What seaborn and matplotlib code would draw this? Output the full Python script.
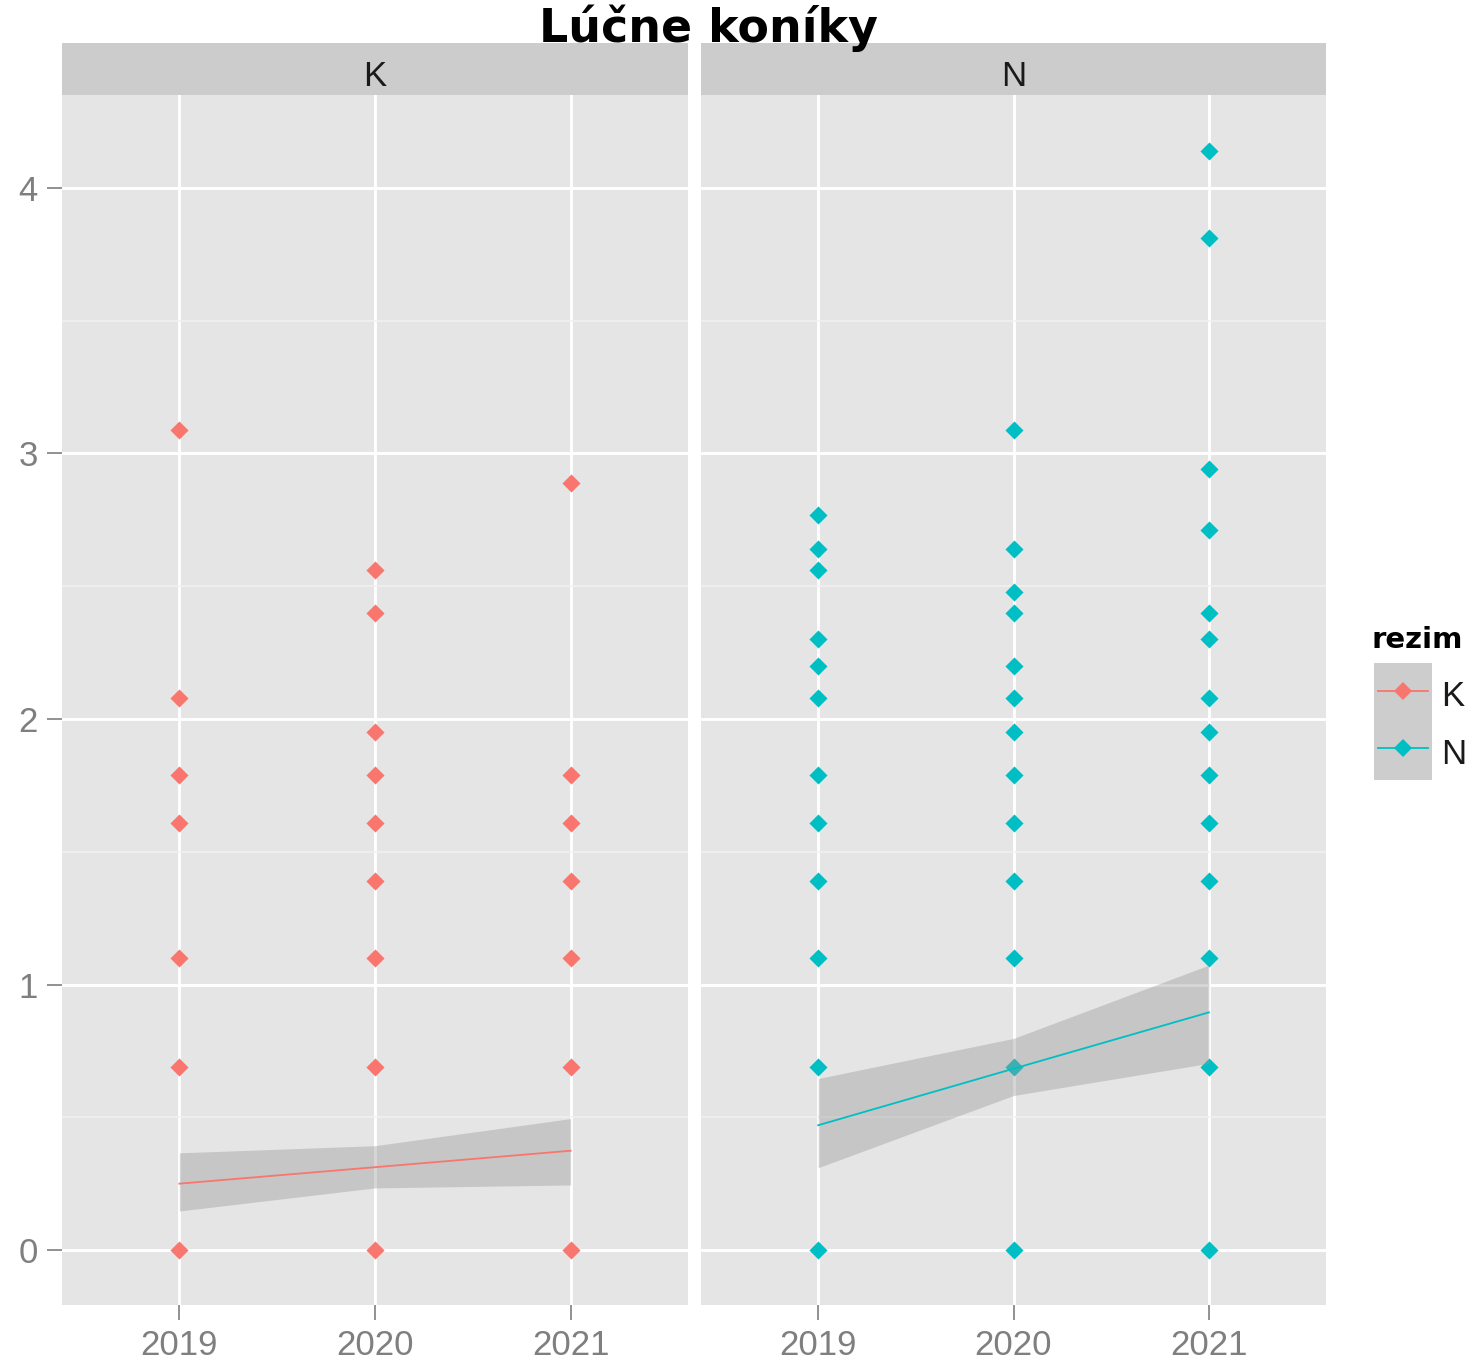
import numpy as np
import pandas as pd
import matplotlib
matplotlib.use("Agg")
import matplotlib.pyplot as plt
import seaborn as sns

# ---- data -------------------------------------------------------------
years = [2019, 2020, 2021]
regimes = ["K", "N"]
palette = {"K": "#F8766D", "N": "#00BFC4"}

# log-transformed abundances per plot, by regime and year
k_2019 = [3.09, 2.08, 1.79, 1.61, 1.10, 0.69, 0.0]
k_2020 = [2.56, 2.40, 1.95, 1.79, 1.61, 1.39, 1.10, 0.69, 0.0]
k_2021 = [2.89, 1.79, 1.61, 1.39, 1.10, 0.69, 0.0]
n_2019 = [2.77, 2.64, 2.56, 2.30, 2.20, 2.08, 1.79, 1.61, 1.39, 1.10, 0.69, 0.0]
n_2020 = [3.09, 2.64, 2.48, 2.40, 2.20, 2.08, 1.95, 1.79, 1.61, 1.39, 1.10, 0.69, 0.0]
n_2021 = [4.14, 3.81, 2.94, 2.71, 2.40, 2.30, 2.08, 1.95, 1.79, 1.61, 1.39, 1.10, 0.69, 0.0]

# fitted trend with its confidence band, at each year
k_fit = [0.25, 0.312, 0.374]
k_lower = [0.147, 0.234, 0.245]
k_upper = [0.366, 0.393, 0.495]
n_fit = [0.47, 0.683, 0.895]
n_lower = [0.31, 0.582, 0.703]
n_upper = [0.646, 0.797, 1.073]

y_ticks = [0, 1, 2, 3, 4]
title = "Lúčne koníky"
legend_title = "rezim"

# ---- tidy tables ------------------------------------------------------
rows = []
for reg, series in (("K", (k_2019, k_2020, k_2021)), ("N", (n_2019, n_2020, n_2021))):
    for yr, vals in zip(years, series):
        for v in vals:
            rows.append({"rok": yr, "hodnota": v, "rezim": reg})
points = pd.DataFrame(rows)

fits = pd.DataFrame({
    "rok": years * 2,
    "rezim": ["K"] * 3 + ["N"] * 3,
    "fit": k_fit + n_fit,
    "lower": k_lower + n_lower,
    "upper": k_upper + n_upper,
})

# ---- figure -----------------------------------------------------------
plt.rcParams["font.family"] = ["Liberation Sans Narrow", "Liberation Sans", "DejaVu Sans"]

W, H = 1470, 1364
fig = plt.figure(figsize=(W / 100, H / 100), dpi=100)


def box(x0, y0, x1, y1):
    return [x0 / W, 1 - y1 / H, (x1 - x0) / W, (y1 - y0) / H]


panel_px = {"K": (62, 95, 688, 1305), "N": (701, 95, 1326, 1305)}
tick_grey = "#7F7F7F"

for i, reg in enumerate(regimes):
    x0, y0, x1, y1 = panel_px[reg]
    ax = fig.add_axes(box(x0, y0, x1, y1))
    ax.set_facecolor("#E5E5E5")
    for s in ax.spines.values():
        s.set_visible(False)

    sub = points[points["rezim"] == reg]
    sns.scatterplot(data=sub, x="rok", y="hodnota", color=palette[reg],
                    marker="D", s=85, linewidth=0, ax=ax, zorder=3, legend=False)

    f = fits[fits["rezim"] == reg]
    ax.fill_between(f["rok"], f["lower"], f["upper"], color="#999999",
                    alpha=0.4, linewidth=0, zorder=4)
    sns.lineplot(data=f, x="rok", y="fit", color=palette[reg], linewidth=1.3,
                 ax=ax, zorder=5)

    ax.set_xlim(2018.4, 2021.6)
    ax.set_ylim(-0.207, 4.35)
    ax.set_xticks(years)
    ax.set_xticklabels([str(y) for y in years])
    ax.set_yticks(y_ticks)
    ax.set_yticks([0.5, 1.5, 2.5, 3.5], minor=True)
    ax.set_axisbelow(True)
    ax.grid(True, which="major", color="white", linewidth=2.1)
    ax.grid(True, which="minor", axis="y", color="#F2F2F2", linewidth=1.1)
    ax.set_xlabel("")
    ax.set_ylabel("")
    ax.tick_params(axis="both", which="major", length=10.5, width=1.2,
                   color=tick_grey, labelcolor=tick_grey, labelsize=25)
    ax.tick_params(axis="x", pad=7)
    ax.tick_params(axis="y", pad=7)
    ax.tick_params(axis="y", which="minor", length=0)
    if i > 0:
        ax.tick_params(axis="y", left=False, labelleft=False)

    # facet strip
    sx = fig.add_axes(box(x0, 43, x1, y0))
    sx.set_facecolor("#CCCCCC")
    sx.set_xticks([])
    sx.set_yticks([])
    for s in sx.spines.values():
        s.set_visible(False)
    sx.text(0.5, 0.36, reg, ha="center", va="center", fontsize=25,
            color="#1A1A1A", transform=sx.transAxes)

# ---- title ------------------------------------------------------------
fig.text(708 / W, 1 - 42 / H, title, ha="center", va="baseline",
         fontsize=33, fontweight="bold", family="DejaVu Sans", color="black")

# ---- legend -----------------------------------------------------------
fig.text(1372 / W, 1 - 640 / H, legend_title, ha="left", va="center",
         fontsize=21, fontweight="bold", family="DejaVu Sans", color="black")
kx = fig.add_axes(box(1374, 663, 1432, 780))
kx.set_facecolor("#CDCDCD")
kx.set_xlim(0, 58)
kx.set_ylim(780, 663)
kx.set_xticks([])
kx.set_yticks([])
for s in kx.spines.values():
    s.set_visible(False)
for reg, ky, ty in (("K", 691, 697), ("N", 748, 755)):
    kx.plot([4, 29, 54], [ky] * 3, color=palette[reg], linewidth=1.3,
            marker="D", markersize=9, markevery=[1], markeredgewidth=0)
    fig.text(1441 / W, 1 - ty / H, reg, ha="left", va="center",
             fontsize=25, color="#1A1A1A")

fig.savefig("out.png", dpi=100)
